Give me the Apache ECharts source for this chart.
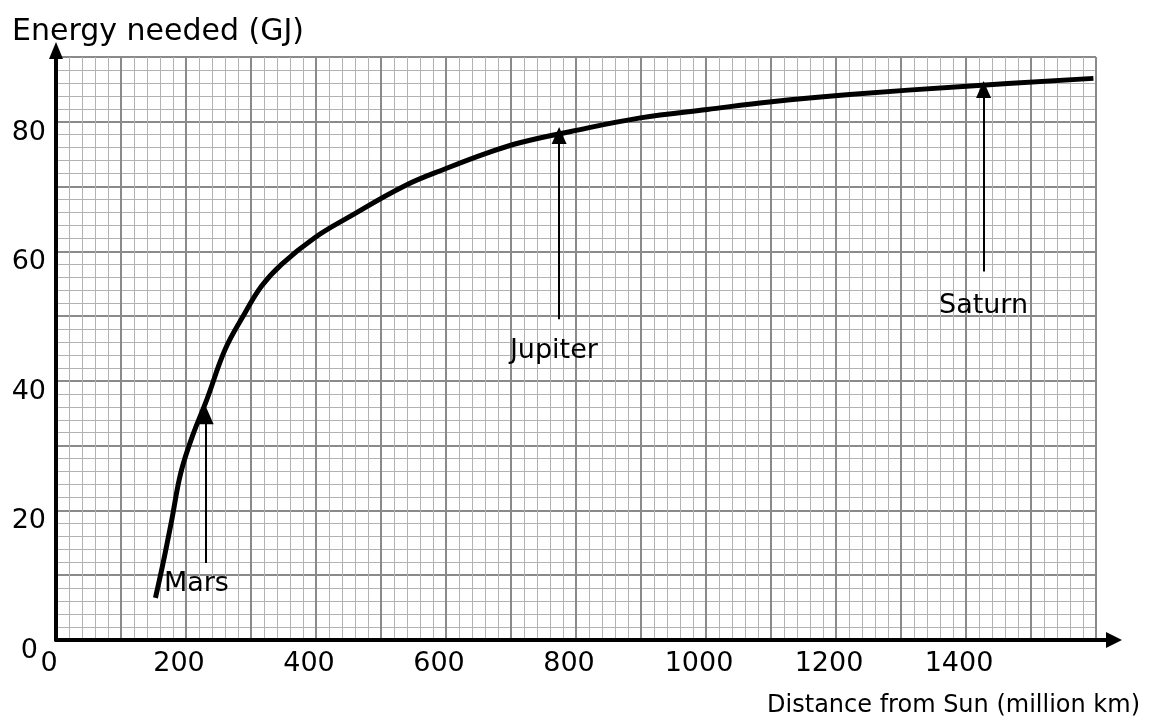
<!DOCTYPE html>
<html><head><meta charset="utf-8">
<script src="https://cdn.jsdelivr.net/npm/echarts@6/dist/echarts.min.js"></script>
<style>html,body{margin:0;padding:0;background:#fff}#c{width:1151px;height:728px}</style>
</head><body><div id="c"></div>
<script>
const distance = [153,165,178,192,210,232,260,288,316,347,398,449,536,603,664,715,792,899,1002,1101,1221,1401,1596];
const energy   = [6.5,12.0,18.5,25.8,31.5,37.1,44.8,50.0,54.6,58.0,62.1,65.2,70.1,72.9,75.2,76.8,78.5,80.6,81.9,83.1,84.2,85.5,86.7];
const planetNames = ['Mars','Jupiter','Saturn'];
const arrowX      = [231, 774, 1427];
const arrowFrom   = [11.9, 49.5, 56.9];
const arrowTo     = [34.6, 77.9, 85.0];
const labelX      = [166, 766, 1427];
const labelY      = [8.6, 44.6, 51.6];
const xLabelTicks = [0,200,400,600,800,1000,1200,1400];
const yLabelTicks = [0,20,40,60,80];
const xTitle = 'Distance from Sun (million km)';
const yTitle = 'Energy needed (GJ)';

const FONT = '"Comic Sans MS","DejaVu Sans",sans-serif';
const chart = echarts.init(document.getElementById('c'));
const curve = distance.map((d,i)=>[d, energy[i]]);

chart.setOption({
  animation:false,
  backgroundColor:'#fff',
  grid:{left:56,right:55,top:57,bottom:88},
  xAxis:{type:'value',min:0,max:1600,interval:100,
    axisLine:{show:true,onZero:false,lineStyle:{color:'#000',width:4}},
    axisTick:{show:false},
    splitLine:{show:true,lineStyle:{color:'#8a8a8a',width:2}},
    minorTick:{show:false,splitNumber:5},
    minorSplitLine:{show:true,lineStyle:{color:'#b2b2b2',width:1}},
    axisLabel:{fontFamily:FONT,fontSize:27,color:'#000',margin:10,padding:[0,14,0,0],
      formatter:v=>xLabelTicks.includes(v)?String(v):''}
  },
  yAxis:{type:'value',min:0,max:90,interval:10,
    axisLine:{show:true,onZero:false,lineStyle:{color:'#000',width:4}},
    axisTick:{show:false},
    splitLine:{show:true,lineStyle:{color:'#8a8a8a',width:2}},
    minorTick:{show:false,splitNumber:5},
    minorSplitLine:{show:true,lineStyle:{color:'#b2b2b2',width:1}},
    axisLabel:{fontFamily:FONT,fontSize:27,color:'#000',margin:10,padding:[22,0,0,0],
      formatter:v=>v===0?'{z|0}':(yLabelTicks.includes(v)?String(v):''),
      rich:{z:{fontFamily:FONT,fontSize:27,color:'#000',padding:[0,8,0,0]}}}
  },
  series:[
    {type:'line',data:curve,smooth:0.4,showSymbol:false,
      lineStyle:{color:'#000',width:5},
      markLine:{silent:true,symbol:['none','triangle'],symbolSize:[15,17],
        label:{show:false},
        lineStyle:{color:'#000',width:2,type:'solid'},
        data:planetNames.map((n,i)=>[{coord:[arrowX[i],arrowFrom[i]]},{coord:[arrowX[i],arrowTo[i]]}])
      }
    }
  ]
});

const r = chart.convertToPixel({gridIndex:0},[1600,0]);
const t = chart.convertToPixel({gridIndex:0},[0,90]);
const g = [
  {type:'line',shape:{x1:r[0]-1,y1:r[1],x2:r[0]+12,y2:r[1]},style:{stroke:'#000',lineWidth:4},z:100},
  {type:'polygon',shape:{points:[[r[0]+10,r[1]-8],[r[0]+26,r[1]],[r[0]+10,r[1]+8]]},style:{fill:'#000'},z:100},
  {type:'polygon',shape:{points:[[t[0]-7,t[1]+2],[t[0],t[1]-15],[t[0]+7,t[1]+2]]},style:{fill:'#000'},z:100},
  {type:'text',left:12,top:17,style:{text:yTitle,font:'30px '+FONT,fill:'#000'},z:100},
  {type:'text',right:11,top:694,style:{text:xTitle,font:'24px '+FONT,fill:'#000'},z:100}
];
planetNames.forEach((n,i)=>{
  const p = chart.convertToPixel({gridIndex:0},[labelX[i],labelY[i]]);
  g.push({type:'text',x:p[0],y:p[1],z:100,
    style:{text:n,font:'27px '+FONT,fill:'#000',align:i===0?'left':'center',verticalAlign:'middle'}});
});
chart.setOption({graphic:g});
</script></body></html>
